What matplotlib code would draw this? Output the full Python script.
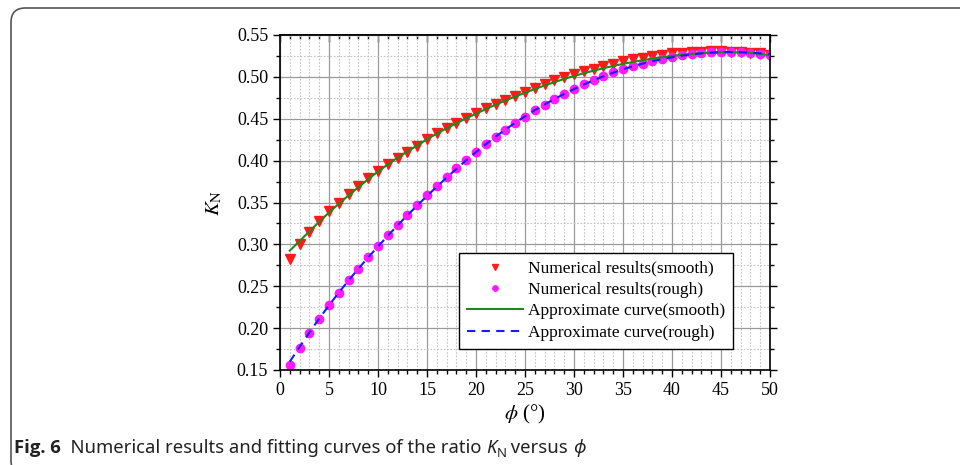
import numpy as np
import matplotlib.pyplot as plt
from matplotlib.patches import FancyBboxPatch
from matplotlib.ticker import MultipleLocator

plt.rcParams['font.family'] = ['Liberation Serif', 'DejaVu Serif']
plt.rcParams['mathtext.fontset'] = 'stix'

# friction angle phi (deg)
phi = list(range(1, 51))

# numerical results, smooth contact
kn_smooth = [0.2825, 0.3005, 0.315, 0.328, 0.340, 0.350, 0.360, 0.370, 0.379, 0.388,
             0.396, 0.4035, 0.4107, 0.418, 0.426, 0.4326, 0.4386, 0.4446, 0.451, 0.4565,
             0.4625, 0.4673, 0.4725, 0.477, 0.4823, 0.487, 0.4915, 0.4959, 0.4994, 0.5034,
             0.507, 0.5098, 0.513, 0.5157, 0.5185, 0.521, 0.523, 0.525, 0.5265, 0.528,
             0.529, 0.5297, 0.530, 0.5305, 0.5305, 0.530, 0.5297, 0.529, 0.528, 0.5265]

# numerical results, rough contact
kn_rough = [0.156, 0.1766, 0.1946, 0.2113, 0.2272, 0.2423, 0.2571, 0.271, 0.2845, 0.298,
            0.3108, 0.3235, 0.3355, 0.347, 0.3585, 0.3697, 0.3808, 0.3912, 0.4007, 0.4103,
            0.4198, 0.4286, 0.437, 0.445, 0.4525, 0.4601, 0.4668, 0.4736, 0.4796, 0.4855,
            0.4911, 0.4963, 0.501, 0.5055, 0.509, 0.5126, 0.5157, 0.5185, 0.5213, 0.5237,
            0.5257, 0.5273, 0.5285, 0.5293, 0.5297, 0.5297, 0.5293, 0.5285, 0.5278, 0.5265]

# approximate (fitted) curves
fit_smooth = [0.2925, 0.304, 0.3155, 0.327, 0.338, 0.3485, 0.3585, 0.3683, 0.3778, 0.387,
              0.3955, 0.4035, 0.411, 0.418, 0.4255, 0.4322, 0.4386, 0.4446, 0.4505, 0.456,
              0.4615, 0.4668, 0.4718, 0.4765, 0.481, 0.4855, 0.4897, 0.4937, 0.4975, 0.501,
              0.5043, 0.5074, 0.5103, 0.513, 0.5155, 0.5178, 0.5199, 0.5218, 0.5235, 0.525,
              0.5263, 0.5274, 0.5283, 0.529, 0.5294, 0.5295, 0.5292, 0.5285, 0.5274, 0.5258]
fit_rough = [0.160, 0.1775, 0.1948, 0.2114, 0.2272, 0.2424, 0.257, 0.271, 0.2845, 0.2975,
             0.3102, 0.3228, 0.3348, 0.3464, 0.3578, 0.3689, 0.3797, 0.3902, 0.4004, 0.4102,
             0.4196, 0.4286, 0.4371, 0.4452, 0.4529, 0.4602, 0.467, 0.4735, 0.4796, 0.4854,
             0.4908, 0.4959, 0.5006, 0.505, 0.509, 0.5126, 0.5158, 0.5187, 0.5212, 0.5234,
             0.5253, 0.5268, 0.528, 0.5289, 0.5295, 0.5297, 0.5295, 0.529, 0.5281, 0.5268]

fig = plt.figure(figsize=(9.6, 4.65), dpi=100)

# rounded frame around the figure panel (open at right/bottom edges)
frame = FancyBboxPatch((11 / 960, -10 / 465), 980 / 960, 467 / 465,
                       boxstyle='round,pad=0,rounding_size=0.015',
                       transform=fig.transFigure, fill=False,
                       edgecolor='#555555', linewidth=1.2, mutation_aspect=960 / 465)
fig.patches.append(frame)

ax = fig.add_axes([280 / 960, 1 - 370 / 465, 490 / 960, 335 / 465])

ax.plot(phi, fit_smooth, color='#1b8a1b', lw=1.5, zorder=3,
        label='Approximate curve(smooth)')
ax.plot(phi, fit_rough, color='#1a1aff', lw=1.5, ls=(0, (4, 3)), zorder=3,
        label='Approximate curve(rough)')
ax.plot(phi, kn_smooth, 'v', color='#ff1a1a', ms=7, mec='#ff1a1a', zorder=2,
        label='Numerical results(smooth)')
ax.plot(phi, kn_rough, 'o', color='#ff1aff', ms=6, mec='#ff1aff', zorder=2,
        label='Numerical results(rough)')

ax.set_xlim(0, 50)
ax.set_ylim(0.15, 0.55)
ax.xaxis.set_major_locator(MultipleLocator(5))
ax.xaxis.set_minor_locator(MultipleLocator(1))
ax.yaxis.set_major_locator(MultipleLocator(0.05))
ax.yaxis.set_minor_locator(MultipleLocator(0.025))
ax.yaxis.set_major_formatter(plt.FormatStrFormatter('%.2f'))

ax.grid(which='major', color='#9a9a9a', lw=0.9, ls='-')
ax.grid(which='minor', color='#c4c4c4', lw=0.8, ls=(0, (1.5, 1.5)))
ax.set_axisbelow(True)

ax.tick_params(which='both', direction='out', labelsize=13, width=1.0, right=True)
ax.tick_params(which='major', length=5)
ax.tick_params(which='minor', length=3)
for s in ax.spines.values():
    s.set_linewidth(1.2)

# inward ticks along the top edge
top = ax.secondary_xaxis('top')
top.xaxis.set_major_locator(MultipleLocator(5))
top.xaxis.set_minor_locator(MultipleLocator(1))
top.tick_params(which='both', direction='in', labeltop=False, width=1.0)
top.tick_params(which='major', length=5)
top.tick_params(which='minor', length=3)
top.spines['top'].set_linewidth(1.2)

ax.set_xlabel(r'$\phi$ (°)', fontsize=15, labelpad=3)
ax.set_ylabel(r'$K_{\mathrm{N}}$', fontsize=15, labelpad=9)

h, l = ax.get_legend_handles_labels()
order = [2, 3, 0, 1]
leg = ax.legend([h[i] for i in order], [l[i] for i in order],
                loc='lower right', bbox_to_anchor=(0.9415, 0.038), fontsize=12.5,
                frameon=True, fancybox=False, edgecolor='black',
                handlelength=3.2, handletextpad=0.3, borderpad=0.45,
                labelspacing=0.3, markerscale=0.65, framealpha=1)
leg.get_frame().set_linewidth(1.0)

# caption, built from pieces so K and phi can be italic
cap_font = ['Noto Sans', 'Open Sans', 'DejaVu Sans']
cap_fs = 13.3
prev = fig.text(14 / 960, 1 - 457 / 465, 'Fig. 6', fontsize=cap_fs, weight='bold',
                family=['Open Sans', 'DejaVu Sans'], va='bottom', color='#222222')
parts = [('  Numerical results and fitting curves of the ratio ', 'normal', cap_fs, 0),
         ('K', 'italic', cap_fs, 0),
         ('N', 'normal', 9.5, -2.5),
         (' versus ', 'normal', cap_fs, 2.5),
         ('ϕ', 'italic', cap_fs, 0)]
for txt, style, fs, dy in parts:
    prev = ax.annotate(txt, xy=(1, 0), xycoords=prev, xytext=(0, dy),
                       textcoords='offset points', fontsize=fs, style=style,
                       family=cap_font, va='bottom', ha='left', color='#222222',
                       annotation_clip=False)

fig.savefig('out.png', dpi=100)
